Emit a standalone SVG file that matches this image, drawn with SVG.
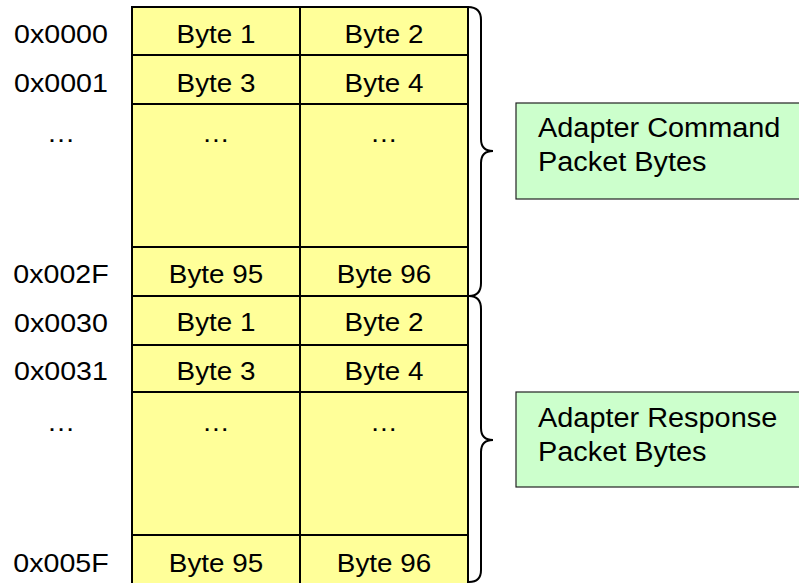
<svg xmlns="http://www.w3.org/2000/svg" width="799" height="583" viewBox="0 0 799 583">
<style>
.cell{fill:#FFFF99;stroke:#000;stroke-width:2}
.note{fill:#CCFFCC;stroke:#222;stroke-width:1.2}
text{font-family:"Liberation Sans",Arial,sans-serif;font-size:26px;fill:#000}
.n{font-size:27px}
.c{text-anchor:middle}
.brace{fill:none;stroke:#000;stroke-width:2}
</style>
<rect width="799" height="583" fill="#fff"/>
<g id="cmd-block">
<g id="r0c1"><rect class="cell" x="132" y="7" width="168" height="48"/><text class="c" transform="translate(216,43) scale(1.07,1)">Byte 1</text></g>
<g id="r0c2"><rect class="cell" x="300" y="7" width="168" height="48"/><text class="c" transform="translate(384,43) scale(1.07,1)">Byte 2</text></g>
<g id="r1c1"><rect class="cell" x="132" y="55" width="168" height="49"/><text class="c" transform="translate(216,92) scale(1.07,1)">Byte 3</text></g>
<g id="r1c2"><rect class="cell" x="300" y="55" width="168" height="49"/><text class="c" transform="translate(384,92) scale(1.07,1)">Byte 4</text></g>
<g id="r2c1"><rect class="cell" x="132" y="104" width="168" height="143"/><text class="c" transform="translate(216,142) scale(1.07,1)">…</text></g>
<g id="r2c2"><rect class="cell" x="300" y="104" width="168" height="143"/><text class="c" transform="translate(384,142) scale(1.07,1)">…</text></g>
<g id="r3c1"><rect class="cell" x="132" y="247" width="168" height="49"/><text class="c" transform="translate(216,283) scale(1.07,1)">Byte 95</text></g>
<g id="r3c2"><rect class="cell" x="300" y="247" width="168" height="49"/><text class="c" transform="translate(384,283) scale(1.07,1)">Byte 96</text></g>
</g>
<g id="rsp-block">
<g id="s0c1"><rect class="cell" x="132" y="296" width="168" height="49"/><text class="c" transform="translate(216,331) scale(1.07,1)">Byte 1</text></g>
<g id="s0c2"><rect class="cell" x="300" y="296" width="168" height="49"/><text class="c" transform="translate(384,331) scale(1.07,1)">Byte 2</text></g>
<g id="s1c1"><rect class="cell" x="132" y="345" width="168" height="47"/><text class="c" transform="translate(216,380) scale(1.07,1)">Byte 3</text></g>
<g id="s1c2"><rect class="cell" x="300" y="345" width="168" height="47"/><text class="c" transform="translate(384,380) scale(1.07,1)">Byte 4</text></g>
<g id="s2c1"><rect class="cell" x="132" y="392" width="168" height="143"/><text class="c" transform="translate(216,431) scale(1.07,1)">…</text></g>
<g id="s2c2"><rect class="cell" x="300" y="392" width="168" height="143"/><text class="c" transform="translate(384,431) scale(1.07,1)">…</text></g>
<g id="s3c1"><rect class="cell" x="132" y="535" width="168" height="52"/><text class="c" transform="translate(216,572) scale(1.07,1)">Byte 95</text></g>
<g id="s3c2"><rect class="cell" x="300" y="535" width="168" height="52"/><text class="c" transform="translate(384,572) scale(1.07,1)">Byte 96</text></g>
</g>
<g id="addresses">
<text class="c" transform="translate(61,43) scale(1.1,1)">0x0000</text>
<text class="c" transform="translate(61,92) scale(1.1,1)">0x0001</text>
<text class="c" transform="translate(61,142) scale(1.1,1)">…</text>
<text class="c" transform="translate(61,283) scale(1.1,1)">0x002F</text>
<text class="c" transform="translate(61,332) scale(1.1,1)">0x0030</text>
<text class="c" transform="translate(61,380) scale(1.1,1)">0x0031</text>
<text class="c" transform="translate(61,431) scale(1.1,1)">…</text>
<text class="c" transform="translate(61,572) scale(1.1,1)">0x005F</text>
</g>
<g id="connectors">
<path class="brace" d="M468,7 Q481,7 481,20 L481,139 Q481,151 493,151 Q481,151 481,163 L481,283 Q481,296 469,296"/>
<path class="brace" d="M469,296 Q481,296 481,309 L481,428 Q481,440 493,440 Q481,440 481,452 L481,570 Q481,582 469,582"/>
</g>
<g id="cmd-note"><rect class="note" x="516" y="103" width="300" height="96"/>
<text class="n" transform="translate(538,137) scale(1.07,1)">Adapter Command</text>
<text class="n" transform="translate(538,171) scale(1.07,1)">Packet Bytes</text></g>
<g id="rsp-note"><rect class="note" x="516" y="392" width="300" height="95"/>
<text class="n" transform="translate(538,427) scale(1.07,1)">Adapter Response</text>
<text class="n" transform="translate(538,461) scale(1.07,1)">Packet Bytes</text></g>
</svg>
